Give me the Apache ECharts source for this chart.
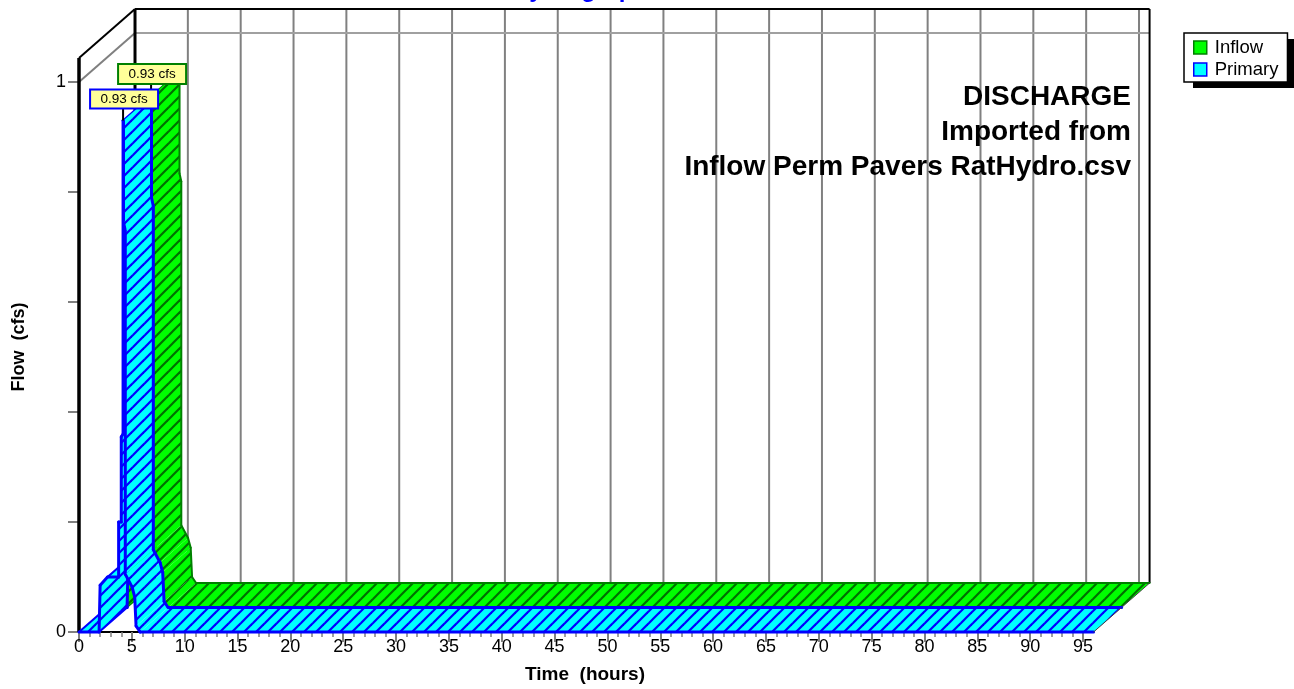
<!DOCTYPE html>
<html><head><meta charset="utf-8">
<style>html,body{margin:0;padding:0;background:#fff}#c{width:1294px;height:689px}</style>
<script src="https://cdn.jsdelivr.net/npm/echarts@6/dist/echarts.min.js"></script>
</head><body><div id="c"></div>
<script>
var hours = [0,1.9,2,2.7,3.75,3.75,4,4,4.17,4.17,4.21,4.21,4.38,4.38,5.02,5.27,5.4,5.78,96];
var inflow = [0,0,0.085,0.1,0.1,0.2,0.2,0.355,0.36,0.93,0.93,0.745,0.73,0.105,0.082,0.064,0.011,0,0];
var primary = [0,0,0.085,0.1,0.1,0.2,0.2,0.355,0.36,0.93,0.93,0.745,0.73,0.105,0.082,0.064,0.011,0,0];
var gridHours = [5,10,15,20,25,30,35,40,45,50,55,60,65,70,75,80,85,90,95];
var peakLabel = '0.93 cfs';
var noteLines = ['DISCHARGE','Imported from','Inflow Perm Pavers RatHydro.csv'];
var depthT = 2.65, depthQ = 0.0445, endT = 96, topQ = 1.0436;
var FONT = '"Liberation Sans", Arial, sans-serif';

function hatch(bg, fg){
  var n = 12, c = document.createElement('canvas'); c.width = n; c.height = n;
  var g = c.getContext('2d'); g.fillStyle = bg; g.fillRect(0,0,n,n);
  g.strokeStyle = fg; g.lineWidth = 2.2;
  [[-n,n,n,-n],[-n,2*n,2*n,-n],[0,2*n,2*n,0]].forEach(function(s){g.beginPath();g.moveTo(s[0],s[1]);g.lineTo(s[2],s[3]);g.stroke();});
  return {image:c, repeat:'repeat'};
}
function pairs(v){return hours.map(function(h,i){return [h,v[i]];});}
function ribbon(plane, fill, edge, width, values){
  return function(params, api){
    var i = params.dataIndex;
    if (i >= hours.length-1) return {type:'group',children:[]};
    var P = function(t,q,k){return api.coord([t+k*depthT, q+k*depthQ]);};
    var a=[hours[i],values[i]], b=[hours[i+1],values[i+1]];
    var f0=P(a[0],a[1],plane), f1=P(b[0],b[1],plane), b1=P(b[0],b[1],plane+1), b0=P(a[0],a[1],plane+1);
    var line=function(p,q,col,w){return {type:'line',shape:{x1:p[0],y1:p[1],x2:q[0],y2:q[1]},style:{stroke:col||edge,lineWidth:w||width,lineCap:'round'}};};
    var kids=[{type:'polygon',shape:{points:[f0,f1,b1,b0]},style:{fill:fill,stroke:null}}];
    kids.push(line(f0,f1)); kids.push(line(b0,b1));
    if (i===0 || i===1 || i===3 || i===9) kids.push(line(f0,b0,edge,width*0.7));
    if (i===hours.length-2) kids.push(line(f1,b1,'#404040',1));
    return {type:'group',children:kids};
  };
}
function walls(params, api){
  var P = function(t,q,k){return api.coord([t+k*depthT, q+k*depthQ]);};
  var seg=function(p,q,col,w){return {type:'line',shape:{x1:p[0],y1:p[1],x2:q[0],y2:q[1]},style:{stroke:col,lineWidth:w}};};
  var kids=[];
  gridHours.forEach(function(h){kids.push(seg(P(h,0,2),P(h,topQ,2),'#808080',2));});
  kids.push(seg(P(0,1,0),P(0,1,2),'#808080',2));
  kids.push(seg(P(0,1,2),P(endT,1,2),'#a0a0a0',2));
  kids.push(seg(P(0,topQ,0),P(0,topQ,2),'#000',2));
  kids.push(seg(P(0,topQ,2),P(endT,topQ,2),'#000',2));
  kids.push(seg(P(endT,topQ,2),P(endT,0,2),'#000',2));
  kids.push(seg(P(0,topQ,2),P(0,0,2),'#000',3));
  kids.push(seg(P(0,0,0),P(0,topQ,0),'#000',3.5));
  return {type:'group',children:kids};
}
function tag(text, border, plane, dx, dy, w, h){
  return function(params, api){
    var p = api.coord([api.value(0)+plane*depthT, api.value(1)+plane*depthQ]);
    return {type:'group',children:[
      {type:'line',shape:{x1:p[0],y1:p[1],x2:p[0],y2:p[1]+dy+h},style:{stroke:'#000',lineWidth:2}},
      {type:'rect',shape:{x:p[0]+dx,y:p[1]+dy,width:w,height:h},
       style:{fill:'#ffff99',stroke:border,lineWidth:2},
       textContent:{style:{text:text,fontFamily:FONT,fontSize:13.5,fill:'#000'}},
       textConfig:{position:'inside'}}]};
  };
}
var option = {
  animation:false, backgroundColor:'#fff',
  title:[
    {text:'Hydrograph',left:575,textAlign:'center',top:-27,textStyle:{color:'#0000ff',fontFamily:FONT,fontSize:24,fontWeight:'bold'}},
    {text:noteLines.join('\n'),left:1131,top:80,textAlign:'right',padding:0,z:20,textStyle:{color:'#000',fontFamily:FONT,fontSize:28,fontWeight:'bold',lineHeight:35,align:'right'}}
  ],
  graphic:[{type:'rect',z:1,shape:{x:1193,y:39,width:101,height:49},style:{fill:'#000'}}],
  grid:{left:79,right:211,top:82,bottom:57,containLabel:false,outerBoundsMode:'none'},
  legend:{orient:'vertical',left:1184,top:33,itemWidth:13,itemHeight:13,itemGap:3,padding:[5,9,3,9],z:5,
    backgroundColor:'#fff',borderColor:'#000',borderWidth:1.5,
    textStyle:{fontFamily:FONT,fontSize:18.5,color:'#000',padding:[0,0,0,3]},
    data:[{name:'Inflow',icon:'rect',itemStyle:{color:'#00ff00',borderColor:'#008000',borderWidth:1.5}},
          {name:'Primary',icon:'rect',itemStyle:{color:'#00ffff',borderColor:'#0000ff',borderWidth:1.5}}]},
  xAxis:{type:'value',min:0,max:95,interval:5,name:'Time  (hours)',nameLocation:'middle',nameGap:33,
    nameTextStyle:{fontFamily:FONT,fontSize:19,fontWeight:'bold',color:'#000',padding:[0,0,0,8]},
    axisLine:{lineStyle:{color:'#000',width:2}},axisTick:{length:10,lineStyle:{color:'#808080',width:2}},
    minorTick:{show:true,splitNumber:5,length:5,lineStyle:{color:'#808080',width:1.5}},
    axisLabel:{fontFamily:FONT,fontSize:18,color:'#000',margin:6},splitLine:{show:false}},
  yAxis:{type:'value',min:0,max:1,interval:0.2,name:'Flow  (cfs)',nameLocation:'middle',nameGap:51,
    nameTextStyle:{fontFamily:FONT,fontSize:18,fontWeight:'bold',color:'#000',padding:[0,0,0,20]},
    axisLine:{show:false},axisTick:{length:11,lineStyle:{color:'#808080',width:2}},
    axisLabel:{fontFamily:FONT,fontSize:18,color:'#000',margin:13,formatter:function(v){return (v===0||v===1)?String(v):'';}},
    splitLine:{show:false}},
  series:[
    {type:'custom',name:'Walls',coordinateSystem:'cartesian2d',data:[[0,0]],renderItem:walls,z:1,silent:true},
    {type:'custom',name:'Inflow',coordinateSystem:'cartesian2d',data:pairs(inflow),renderItem:ribbon(1,hatch('#00ff00','#007000'),'#008000',2,inflow),z:3,itemStyle:{color:'#00ff00'},silent:true},
    {type:'custom',name:'Primary',coordinateSystem:'cartesian2d',data:pairs(primary),renderItem:ribbon(0,hatch('#00ffff','#0000ff'),'#0000ff',3,primary),z:4,itemStyle:{color:'#00ffff'},silent:true},
    {type:'custom',name:'tagInflow',coordinateSystem:'cartesian2d',data:[[4.17,0.93]],renderItem:tag(peakLabel,'#008000',1,-33,-32,68,20),z:6,silent:true},
    {type:'custom',name:'tagPrimary',coordinateSystem:'cartesian2d',data:[[4.17,0.93]],renderItem:tag(peakLabel,'#0000ff',0,-33,-31,68,19),z:7,silent:true}
  ]
};
echarts.init(document.getElementById('c')).setOption(option);
</script></body></html>
